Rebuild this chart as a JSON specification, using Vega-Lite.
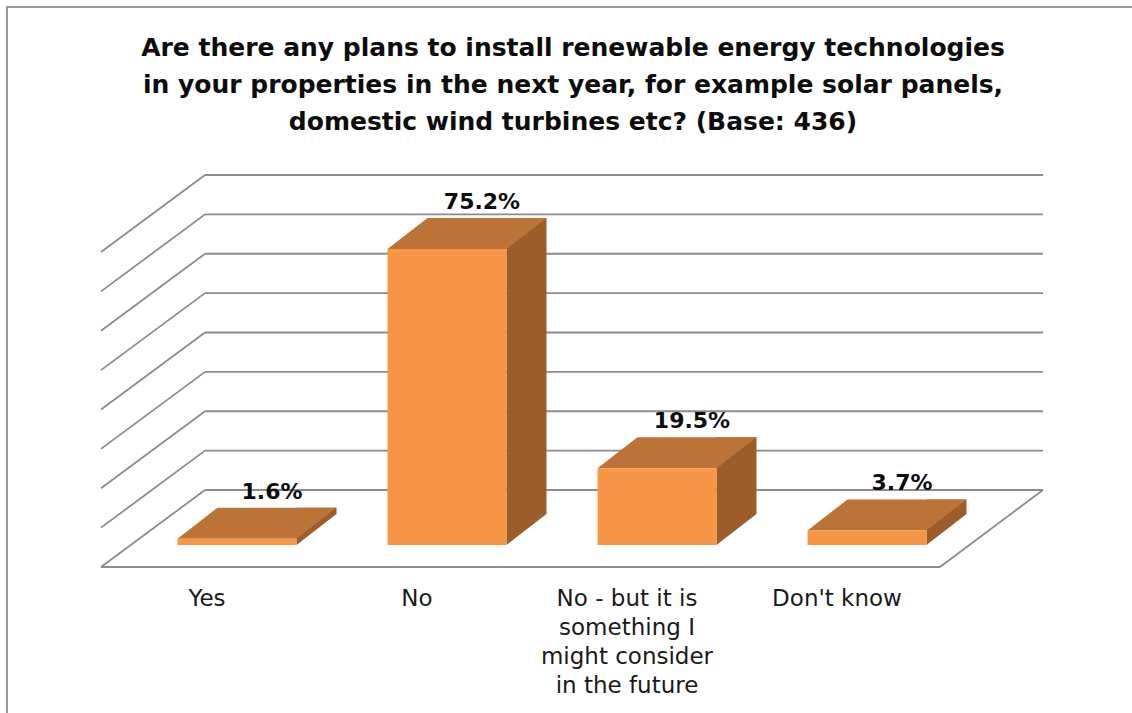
{
  "$schema": "https://vega.github.io/schema/vega-lite/v6.json",
  "width": 840,
  "height": 315,
  "autosize": {"type": "none"},
  "padding": {"left": 132, "top": 230, "right": 160, "bottom": 168},
  "background": "white",
  "config": {
    "view": {"stroke": null},
    "font": "DejaVu Sans",
    "axisX": {
      "domain": false,
      "ticks": false,
      "grid": false,
      "labelAngle": 0,
      "labelOffset": -30,
      "labelPadding": 20,
      "labelFont": "DejaVu Sans",
      "labelFontSize": 23,
      "labelColor": "#1a1a1a",
      "labelLineHeight": 29,
      "labelLimit": 400
    }
  },
  "title": {
    "text": ["Are there any plans to install renewable energy technologies", "in your properties in the next year, for example solar panels,", "domestic wind turbines etc? (Base: 436)"],
    "font": "DejaVu Sans",
    "fontSize": 25,
    "fontWeight": "bold",
    "color": "#0d0d0d",
    "lineHeight": 37,
    "anchor": "middle",
    "frame": "group",
    "dx": 21,
    "offset": 0,
    "dy": 129
  },
  "datasets": {
    "answers": [
      {"cat": "Yes", "pct": 0.016},
      {"cat": "No", "pct": 0.752},
      {"cat": "No - but it is something I might consider in the future", "pct": 0.195},
      {"cat": "Don't know", "pct": 0.037}
    ],
    "grid": [{"v": 0}, {"v": 0.1}, {"v": 0.2}, {"v": 0.3}, {"v": 0.4}, {"v": 0.5}, {"v": 0.6}, {"v": 0.7}, {"v": 0.8}]
  },
  "layer": [
    {
      "data": {"name": "answers"},
      "mark": {"type": "bar", "width": 119, "color": "#f79646", "opacity": 0},
      "encoding": {
        "x": {
          "field": "cat",
          "type": "nominal",
          "title": null,
          "scale": {"domain": ["Yes", "No", "No - but it is something I might consider in the future", "Don't know"], "paddingInner": 0, "paddingOuter": 0},
          "axis": {
            "title": null,
            "orient": "bottom",
            "offset": 22,
            "labelExpr": "datum.value == 'No - but it is something I might consider in the future' ? ['No - but it is', 'something I', 'might consider', 'in the future'] : datum.value"
          }
        },
        "y": {"field": "pct", "type": "quantitative", "axis": null, "scale": {"domain": [0, 0.8], "nice": false, "zero": true}}
      }
    },
    {
      "data": {"name": "grid"},
      "transform": [{"filter": "datum.v == 0"}],
      "mark": {"type": "rule", "stroke": "#9a9a9a", "strokeWidth": 2, "xOffset": -230, "x2Offset": -230, "yOffset": -223, "y2Offset": 170},
      "encoding": {
        "x": {"datum": "Yes", "type": "nominal", "title": null},
        "x2": {"datum": "Yes"},
        "y": {"datum": 0.8, "type": "quantitative", "axis": null},
        "y2": {"datum": 0}
      }
    },
    {
      "data": {"name": "grid"},
      "transform": [{"filter": "datum.v == 0"}],
      "mark": {"type": "rule", "stroke": "#9a9a9a", "strokeWidth": 2, "xOffset": -231, "x2Offset": 270, "yOffset": -223, "y2Offset": -223},
      "encoding": {
        "x": {"datum": "Yes", "type": "nominal", "title": null},
        "x2": {"datum": "Don't know"},
        "y": {"datum": 0.8, "type": "quantitative", "axis": null},
        "y2": {"datum": 0.8}
      }
    },
    {
      "data": {"name": "grid"},
      "mark": {"type": "rule", "stroke": "#8c8c8c", "strokeWidth": 1.8, "xOffset": -32, "x2Offset": 176, "yOffset": -55, "y2Offset": -55},
      "encoding": {
        "x": {"datum": "Yes", "type": "nominal", "title": null},
        "x2": {"datum": "Don't know"},
        "y": {"field": "v", "type": "quantitative", "axis": null},
        "y2": {"field": "v"}
      }
    },
    {
      "data": {"name": "grid"},
      "mark": {"type": "rule", "stroke": "#8c8c8c", "strokeWidth": 1.8, "xOffset": -136, "x2Offset": -32, "yOffset": 22, "y2Offset": -55},
      "encoding": {
        "x": {"datum": "Yes", "type": "nominal", "title": null},
        "x2": {"datum": "Yes"},
        "y": {"field": "v", "type": "quantitative", "axis": null},
        "y2": {"field": "v"}
      }
    },
    {
      "data": {"name": "grid"},
      "transform": [{"filter": "datum.v == 0"}],
      "mark": {"type": "rule", "stroke": "#8c8c8c", "strokeWidth": 1.8, "xOffset": -136, "x2Offset": 73, "yOffset": 22, "y2Offset": 22},
      "encoding": {
        "x": {"datum": "Yes", "type": "nominal", "title": null},
        "x2": {"datum": "Don't know"},
        "y": {"field": "v", "type": "quantitative", "axis": null},
        "y2": {"field": "v"}
      }
    },
    {
      "data": {"name": "grid"},
      "transform": [{"filter": "datum.v == 0"}],
      "mark": {"type": "rule", "stroke": "#8c8c8c", "strokeWidth": 1.8, "xOffset": 73, "x2Offset": 176, "yOffset": 22, "y2Offset": -55},
      "encoding": {
        "x": {"datum": "Don't know", "type": "nominal", "title": null},
        "x2": {"datum": "Don't know"},
        "y": {"field": "v", "type": "quantitative", "axis": null},
        "y2": {"field": "v"}
      }
    },
    {
      "data": {"name": "answers"},
      "mark": {"type": "rule", "stroke": "#9c5d2b", "strokeWidth": 40, "strokeCap": "butt", "xOffset": 79.5, "x2Offset": 79.5, "yOffset": -31, "y2Offset": -31},
      "encoding": {
        "x": {"field": "cat", "type": "nominal", "title": null},
        "y": {"field": "pct", "type": "quantitative", "axis": null},
        "y2": {"datum": 0}
      }
    },
    {
      "data": {"name": "answers"},
      "mark": {"type": "point", "shape": "M59.5,0L99.5,-31L59.5,-31Z", "size": 4, "filled": true, "color": "#9c5d2b", "opacity": 1, "strokeWidth": 0},
      "encoding": {
        "x": {"field": "cat", "type": "nominal", "title": null},
        "y": {"datum": 0, "type": "quantitative", "axis": null}
      }
    },
    {
      "data": {"name": "answers"},
      "mark": {"type": "point", "shape": "M-59.5,0L59.5,0L99.5,-31L-19.5,-31Z", "size": 4, "filled": true, "color": "#bb7338", "opacity": 1, "strokeWidth": 0},
      "encoding": {
        "x": {"field": "cat", "type": "nominal", "title": null},
        "y": {"field": "pct", "type": "quantitative", "axis": null}
      }
    },
    {
      "data": {"name": "answers"},
      "mark": {"type": "bar", "width": 119, "color": "#f79646"},
      "encoding": {
        "x": {"field": "cat", "type": "nominal", "title": null},
        "y": {"field": "pct", "type": "quantitative", "axis": null}
      }
    },
    {
      "data": {"name": "answers"},
      "mark": {"type": "text", "dx": 35, "dy": -47, "align": "center", "baseline": "middle", "font": "DejaVu Sans", "fontSize": 22, "fontWeight": "bold", "color": "#0d0d0d"},
      "encoding": {
        "x": {"field": "cat", "type": "nominal", "title": null},
        "y": {"field": "pct", "type": "quantitative", "axis": null},
        "text": {"field": "pct", "type": "quantitative", "format": ".1%"}
      }
    }
  ]
}
